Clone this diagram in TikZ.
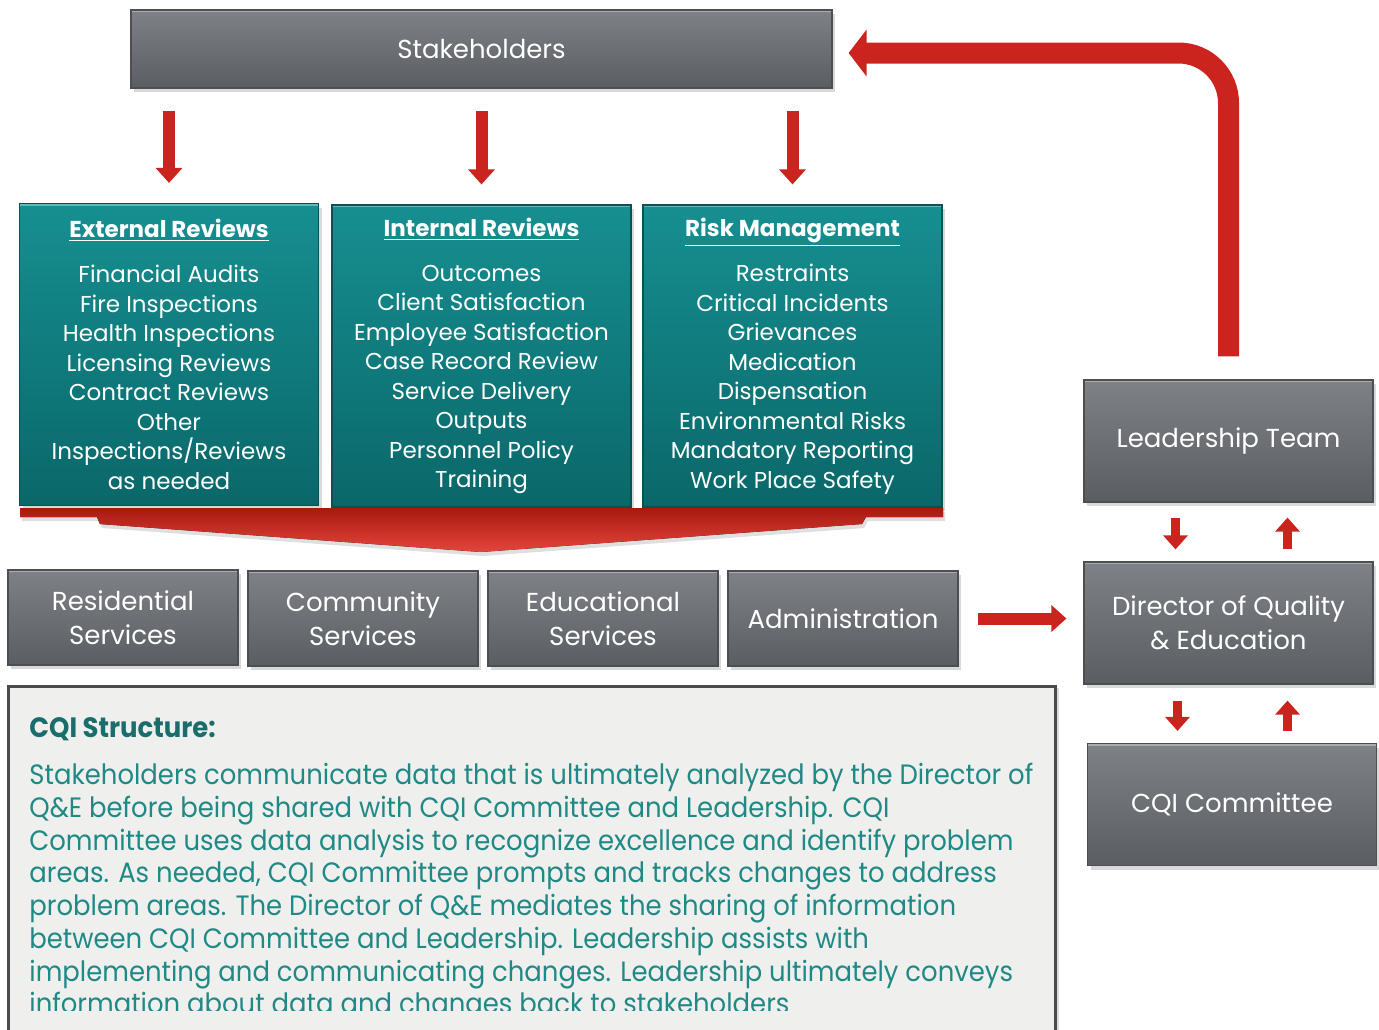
\documentclass[tikz,border=0pt]{standalone}
\usepackage{fontspec}
\setmainfont{Poppins}
\newfontfamily\notefont[FakeStretch=0.925]{Poppins}
\usetikzlibrary{arrows.meta,shadows}

\definecolor{greytop}{HTML}{7E8185}
\definecolor{greybot}{HTML}{5A5D61}
\definecolor{tealtop}{HTML}{168F91}
\definecolor{tealbot}{HTML}{0A6769}
\definecolor{arrowred}{HTML}{CB241F}
\definecolor{bannertop}{HTML}{A8190F}
\definecolor{bannerbot}{HTML}{E5453B}
\definecolor{notebg}{HTML}{EFEFED}
\definecolor{noteedge}{HTML}{4A4B4C}
\definecolor{noteteal}{HTML}{1F8986}

\tikzset {
  grey box/.style = {
    draw=greybot!85!black,
    line width=0.6pt,
    top color=greytop,
    bottom color=greybot,
    text=white,
    align=center,
    inner sep=0pt,
    font=\fontsize{13}{17}\selectfont,
    drop shadow={opacity=0.3, shadow xshift=1.5pt, shadow yshift=-2pt},
    path picture={
      \draw[white, opacity=0.35, line width=2pt]
        (path picture bounding box.north west) -- (path picture bounding box.north east);
    }
  },
  service box/.style = {grey box, minimum width=115pt, minimum height=47.5pt},
  chain box/.style = {grey box, minimum width=144.5pt, minimum height=61pt},
  review box/.style = {
    grey box,
    draw=tealbot!80!black,
    top color=tealtop,
    bottom color=tealbot,
    minimum width=149.5pt,
    minimum height=151pt,
    font=\fontsize{11.5}{14.75}\selectfont
  },
  down arrow/.style = {
    arrowred,
    line width=6pt,
    -{Triangle[width=13pt, length=7.5pt]}
  },
  small arrow/.style = {
    arrowred,
    line width=4.5pt,
    -{Triangle[width=12pt, length=7pt]}
  }
}

\begin{document}
\begin{tikzpicture}[x=0.5pt, y=-0.5pt]

\useasboundingbox (0,0) rectangle (1379,1029);

% --- Stakeholders ---
\node[grey box, minimum width=350.5pt, minimum height=39pt] (stake) at (481.5,49) {Stakeholders};

% --- Review groups ---
\node[review box] (ext) at (169,354.5) {%
  \textbf{\underline{External Reviews}}\\[7.75pt]
  Financial Audits\\ Fire Inspections\\ Health Inspections\\
  Licensing Reviews\\ Contract Reviews\\ Other\\
  Inspections/Reviews\\ as needed};
\node[review box] (int) at (481.5,356) {%
  \textbf{\underline{Internal Reviews}}\\[7.75pt]
  Outcomes\\ Client Satisfaction\\ Employee Satisfaction\\
  Case Record Review\\ Service Delivery\\ Outputs\\
  Personnel Policy\\ Training};
\node[review box] (risk) at (792.5,356) {%
  \textbf{\underline{Risk Management}}\\[7.75pt]
  Restraints\\ Critical Incidents\\ Grievances\\
  Medication\\ Dispensation\\ Environmental Risks\\
  Mandatory Reporting\\ Work Place Safety};

\foreach \n in {ext, int, risk}
  \draw[down arrow, shorten <=11pt, shorten >=10pt] (stake.south -| \n.north) -- (\n.north);

% --- Banner under the review groups ---
\fill[top color=bannertop, bottom color=bannerbot,
      drop shadow={opacity=0.25, shadow xshift=1pt, shadow yshift=-2pt}]
  (20,508) -- (943,508) -- (943,517) -- (866,517) -- (862,524) -- (481,552)
  -- (100,524) -- (97,517) -- (20,517) -- cycle;

% --- Services ---
\node[service box] (res)   at (123,617.5) {Residential\\ Services};
\node[service box] (comm)  at (363,618.5) {Community\\ Services};
\node[service box] (edu)   at (603,618.5) {Educational\\ Services};
\node[service box] (admin) at (843,618.5) {Administration};

% --- Quality chain ---
\node[chain box] (lead) at (1228.5,441)   {Leadership Team};
\node[chain box] (dir)  at (1228.5,623)   {Director of Quality\\ \& Education};
\node[chain box] (cqi)  at (1232,804.5)   {CQI Committee};

\draw[down arrow, shorten <=9.5pt, shorten >=8.5pt] (admin.east) -- (admin.east -| dir.west);

\draw[small arrow, shorten <=7.5pt, shorten >=6pt]
  ([xshift=-26.5pt]lead.south) -- ([xshift=-26.5pt]lead.south |- dir.north);
\draw[small arrow, shorten <=6pt, shorten >=7.5pt]
  ([xshift=29.5pt]lead.south |- dir.north) -- ([xshift=29.5pt]lead.south);
\draw[small arrow, shorten <=8pt, shorten >=6pt]
  ([xshift=-25.5pt]dir.south) -- ([xshift=-25.5pt]dir.south |- cqi.north);
\draw[small arrow, shorten <=6pt, shorten >=8pt]
  ([xshift=29.5pt]dir.south |- cqi.north) -- ([xshift=29.5pt]dir.south);

% --- Feedback to stakeholders ---
\draw[arrowred, line width=10.5pt, rounded corners=25pt,
      -{Triangle[width=23pt, length=9pt]}, shorten <=11.5pt, shorten >=8pt]
  (lead.north) |- ([yshift=-2pt]stake.east);

% --- Note ---
\draw[fill=notebg, draw=noteedge, line width=1.5pt,
      drop shadow={opacity=0.3, shadow xshift=2pt, shadow yshift=-1pt}]
  (8,686) rectangle (1055,1045);
\node[anchor=north west, inner sep=0pt, text=noteteal!80!black,
      font=\notefont\bfseries\fontsize{14}{16}\selectfont] (notetitle) at (29,717) {CQI Structure:};
\begin{scope}
  \clip (8,686) rectangle (1055,1010);
  \node[anchor=north west, inner sep=0pt, align=left, text=noteteal,
        font=\notefont\fontsize{14}{16.35}\selectfont] (notetext) at (29,763) {%
    Stakeholders communicate data that is ultimately analyzed by the Director of\\
    Q\&E before being shared with CQI Committee and Leadership. CQI\\
    Committee uses data analysis to recognize excellence and identify problem\\
    areas. As needed, CQI Committee prompts and tracks changes to address\\
    problem areas. The Director of Q\&E mediates the sharing of information\\
    between CQI Committee and Leadership. Leadership assists with\\
    implementing and communicating changes. Leadership ultimately conveys\\
    information about data and changes back to stakeholders};
\end{scope}

\end{tikzpicture}
\end{document}
